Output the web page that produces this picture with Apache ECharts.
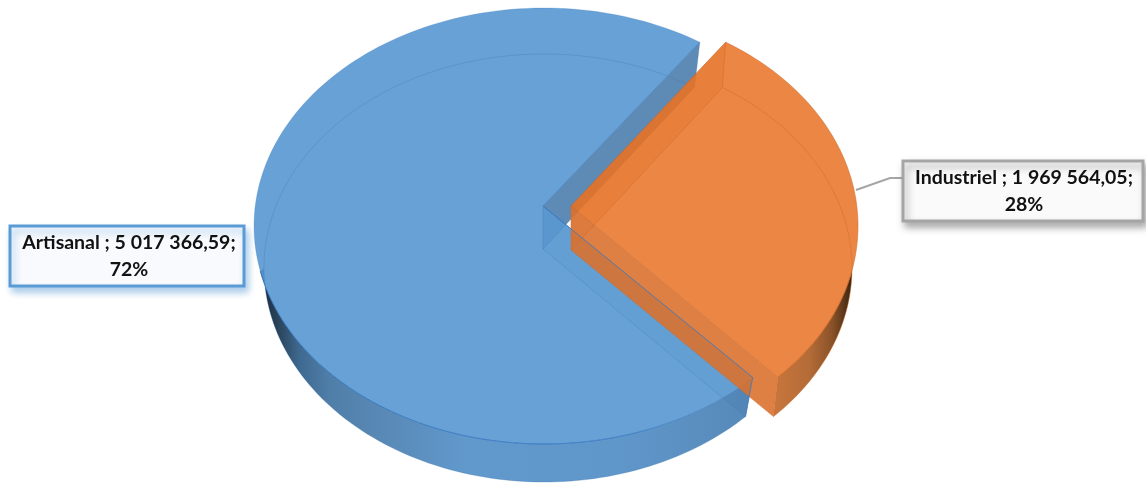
<!DOCTYPE html>
<html><head><meta charset="utf-8">
<style>html,body{margin:0;padding:0;background:#fff}#c{width:1146px;height:483px}</style>
<script src="https://cdn.jsdelivr.net/npm/echarts@6/dist/echarts.min.js"></script>
</head><body><div id="c"></div>
<script>
// ---- data ----
var categories = ['Artisanal', 'Industriel'];
var values = [5017366.59, 1969564.05];

// ---- drawing layout (in page-sized axis units) ----
var firstAngle = -57.5;            // where the Industriel slice begins on the ellipse
var slices = [
  {top:{cx:544,cy:226,rx:290,ry:218}, bot:{cx:544,cy:268,rx:280,ry:214}, apexTop:[543,206], apexBot:[543,249],
   rimFrom:168, rimBotFrom:180},
  {top:{cx:572,cy:226,rx:286,ry:218}, bot:{cx:572,cy:268,rx:280,ry:214}, apexTop:[571,206], apexBot:[571,250],
   rimFrom:12, rimBotFrom:0}
];
var styles = [
  {top:'rgba(90,153,209,0.92)', arcEdge:'rgba(50,115,185,0.22)', edge:'rgba(50,115,185,0.6)', wallA:'rgba(72,122,172,0.88)', wallB:'rgba(70,125,180,0.25)',
   faint:'rgba(60,120,180,0.3)',
   rimLine:[[0,'rgba(50,115,190,0)'],[0.25,'rgba(50,115,190,0.75)'],[1,'rgba(50,115,190,0.85)']],
   rim:[[0,'#1a2838'],[0.04,'#2c475f'],[0.08,'#3f6990'],[0.14,'#4f7ea9'],[0.22,'#5786b2'],[0.42,'#6199cd'],[0.72,'#6097cb'],[1,'#5689b8']]},
  {top:'rgba(232,113,35,0.85)', arcEdge:'rgba(205,105,40,0.5)', edge:'rgba(200,100,40,0.6)', wallA:'rgba(205,130,85,0.4)', wallB:'rgba(218,112,45,0.89)',
   faint:'rgba(205,105,40,0.45)',
   rimLine:[[0,'rgba(205,105,40,0.8)'],[1,'rgba(205,105,40,0.8)']],
   rim:[[0,'#c8763c'],[0.45,'#b56c38'],[0.75,'#8a5228'],[1,'#3a2410']]}
];
var labelBoxes = [
  {x:10,y:226,w:234,h:60,cx:129,ly:[243,270],border:'#5b9bd5',fill:'#f8fafd',shadow:'rgba(91,155,213,0.5)'},
  {x:903,y:161,w:240,h:60,cx:1024,ly:[178,205],border:'#a5a5a5',fill:'#fafafa',shadow:'rgba(0,0,0,0.3)'}
];
var leader = [[856,190],[890,178],[903,178]];

var total = values.reduce(function(a,b){return a+b;},0);
function span(i){return values[i]/total*360;}
function range(i){
  var s1 = firstAngle, e1 = s1 + span(1);
  return i===1 ? [s1,e1] : [e1, e1+span(0)];
}
function pt(e,deg){var r=deg*Math.PI/180;return [e.cx+e.rx*Math.cos(r),e.cy+e.ry*Math.sin(r)];}
function arc(e,a,b){var n=Math.max(2,Math.ceil(Math.abs(b-a)/1.5)),o=[];
  for(var k=0;k<=n;k++)o.push(pt(e,a+(b-a)*k/n));return o;}
function fmt(v){
  var p=v.toFixed(2).split('.');
  return p[0].replace(/\B(?=(\d{3})+$)/g,' ')+','+p[1];
}
function labelText(i){return categories[i]+' ; '+fmt(values[i])+';\n'+Math.round(values[i]/total*100)+'%';}
function grad(stops){return new echarts.graphic.LinearGradient(0,0,1,0,stops.map(function(x){return {offset:x[0],color:x[1]};}));}

function renderItem(params,api){
  var i=params.dataIndex, s=slices[i], st=styles[i], r=range(i), a=r[0], b=r[1];
  function C(p){return api.coord(p);}
  function poly(pts,fill,stroke,lw){return {type:'polygon',shape:{points:pts.map(C)},silent:true,
     style:{fill:fill||'none',stroke:stroke||'none',lineWidth:lw||1}};}
  function line(pts,stroke,lw){return {type:'polyline',shape:{points:pts.map(C)},silent:true,
     style:{fill:'none',stroke:stroke,lineWidth:lw||1}};}
  var kids=[];
  var endFront = i===1 ? b : a;        // front corner of the slice
  var rimTop = i===1 ? arc(s.top,s.rimFrom,endFront) : arc(s.top,endFront,s.rimFrom);
  var rimBot = i===1 ? arc(s.bot,endFront,s.rimBotFrom) : arc(s.bot,s.rimBotFrom,endFront);
  // outer rim
  kids.push(poly(rimTop.concat(rimBot),grad(st.rim)));
  // cut walls
  var pA=pt(s.top,a),pB=pt(s.top,b),qA=pt(s.bot,a),qB=pt(s.bot,b);
  var upperT=i===1?pA:pB, upperB=i===1?qA:qB, lowerT=i===1?pB:pA, lowerB=i===1?qB:qA;
  kids.push(poly([s.apexTop,upperT,upperB,s.apexBot],st.wallA));
  kids.push(poly([s.apexTop,lowerT,lowerB,s.apexBot],st.wallB));
  // top face
  kids.push(poly([s.apexTop].concat(arc(s.top,a,b)),st.top));
  // lines seen through the translucent solid
  kids.push(line(arc(s.top,a,b),st.arcEdge,1));
  kids.push(line([upperT,s.apexTop,lowerT],st.edge,1));
  kids.push(line([upperT,upperB,s.apexBot,lowerB,lowerT],st.faint,1));
  kids.push(line([s.apexTop,s.apexBot],st.faint,1));
  kids.push(line(i===1?arc(s.bot,a,s.rimBotFrom):arc(s.bot,s.rimBotFrom,b),st.faint,1));
  // front edge of the rim
  kids.push(line(i===1?arc(s.top,s.rimFrom,endFront):arc(s.top,endFront,s.rimFrom),grad(i===1?st.rimLine:st.rimLine.slice().reverse().map(function(x){return [1-x[0],x[1]];})),1));
  kids.push(line(rimBot,st.faint,1));
  if(i===1){
    // the neighbouring slice's edge stays visible in front of this one
    var o=slices[0],oa=range(0)[0];
    var c1=pt(o.top,oa),c2=pt(o.bot,oa);
    kids.push(line([o.apexTop,c1,c2],'rgba(60,125,195,0.85)',1));
  }
  // callout
  var bx=labelBoxes[i];
  if(i===1) kids.push(line(leader,'#a5a5a5',2));
  var rb=C([bx.x,bx.y]), re=C([bx.x+bx.w,bx.y+bx.h]);
  kids.push({type:'rect',shape:{x:rb[0],y:rb[1],width:re[0]-rb[0],height:re[1]-rb[1]},silent:true,
    style:{fill:bx.fill,stroke:bx.border,lineWidth:3,shadowBlur:7,shadowOffsetX:3,shadowOffsetY:5,shadowColor:bx.shadow}});
  var parts=labelText(i).split('\n');
  parts.forEach(function(t,k){
    var p=C([bx.cx,bx.ly[k]]);
    kids.push({type:'text',silent:true,style:{x:p[0],y:p[1],text:t,align:'center',verticalAlign:'middle',
      font:'bold 19.5px Lato',fill:'#111'}});
  });
  return {type:'group',children:kids};
}

var chart=echarts.init(document.getElementById('c'),null,{renderer:'canvas'});
chart.setOption({
  animation:false,
  backgroundColor:'#fff',
  grid:{left:0,right:0,top:0,bottom:0,containLabel:false},
  xAxis:{type:'value',min:0,max:1146,show:false},
  yAxis:{type:'value',min:0,max:483,inverse:true,show:false},
  series:[{
    type:'custom',coordinateSystem:'cartesian2d',clip:false,
    data:categories.map(function(c,i){return {name:c,value:[i,values[i]]};}),
    encode:{x:null,y:null},
    renderItem:renderItem
  }]
});
</script></body></html>
